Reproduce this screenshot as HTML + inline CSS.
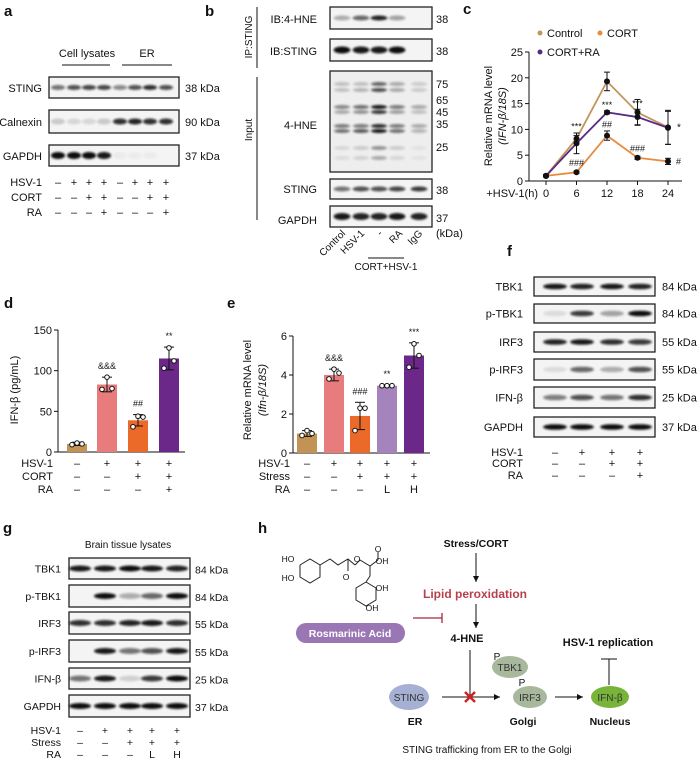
<!DOCTYPE html>
<html><head><meta charset="utf-8"><style>
html,body{margin:0;padding:0;background:#fff;}
svg{display:block;font-family:"Liberation Sans",Arial,sans-serif;}
</style></head><body>
<svg id="fig" width="698" height="759" viewBox="0 0 698 759" xmlns="http://www.w3.org/2000/svg">
<defs><filter id="bl" x="-20%" y="-100%" width="140%" height="300%"><feGaussianBlur stdDeviation="1.1"/></filter></defs>
</svg>
<script>
// ---- chart data ----
const cHours=[0,6,12,18,24];
const cControl=[1,8.2,19.3,13.3,10.4];
const cControlErr=[0.2,0.6,1.8,2.5,3.3];
const cCort=[1,1.7,8.8,4.5,3.8];
const cCortErr=[0.2,0.2,0.9,0.3,0.6];
const cCortRA=[1,7.3,13.3,12.4,10.3];
const cCortRAErr=[0.2,2.0,0.3,1.5,3.2];
const cYTicks=[0,5,10,15,20,25];
const dValues=[10,83,39,115];
const dErr=[2,9,7,14];
const dPoints=[[9,11,10],[77,92,78],[31,44,43],[103,128,112]];
const dYTicks=[0,50,100,150];
const eValues=[1.0,4.0,1.9,3.45,5.0];
const eErr=[0.15,0.3,0.7,0.05,0.65];
const ePoints=[[0.9,1.15,1.0],[3.8,4.3,4.1],[1.15,2.3,2.3],[3.45,3.45,3.45],[4.4,5.6,5.0]];
const eYTicks=[0,2,4,6];

const S=document.getElementById('fig');
const NS='http://www.w3.org/2000/svg';
function mk(tag,attrs,parent){const e=document.createElementNS(NS,tag);for(const k in attrs)e.setAttribute(k,attrs[k]);(parent||S).appendChild(e);return e;}
function txt(x,y,s,size,anchor,name,extra){const e=mk('text',Object.assign({x:x,y:y,'font-size':size,'text-anchor':anchor||'start',fill:'#111'},extra||{}));e.textContent=s;


return e;}
function line(x1,y1,x2,y2,name,stroke,w){const e=mk('line',{x1:x1,y1:y1,x2:x2,y2:y2,stroke:stroke||'#111','stroke-width':w||1});


return e;}
function blot(name,x0,y0,x1,y1,lanes,intens,bh,bandY){
 const r=mk('rect',{x:x0,y:y0,width:x1-x0,height:y1-y0,fill:'#f4f4f4',stroke:'#222','stroke-width':1.3});
 
 
 const sp=lanes.length>1?(lanes[1]-lanes[0]):20;
 lanes.forEach((lx,i)=>{if(intens[i]<=0)return;const b=mk('ellipse',{cx:lx,cy:bandY!==undefined?bandY:(y0+y1)/2,rx:sp*0.44,ry:bh,fill:'#111',opacity:intens[i],filter:'url(#bl)'});
 
 });
}
function signs(rows,lanes,ys,labelX,size,prefix){
 rows.forEach((row,ri)=>{txt(labelX,ys[ri],row[0],size,'end',prefix+'-row-label');
  row[1].forEach((s,i)=>{txt(lanes[i],ys[ri],s,size,'middle',prefix+'-sign');});});
}

// ---- panel letters ----
[['a',4,16],['b',205,16],['c',463,14],['d',4,308],['e',227,308],['f',507,256],['g',3,533],['h',258,533]].forEach(p=>{txt(p[1],p[2],p[0],15,'start','panel-label-'+p[0],{'font-weight':'bold'});});

// ---- panel a ----
const aL=[58,74,89,104,120,135,150,166];
txt(87,57,'Cell lysates',11,'middle','cell-lysates-header');
txt(147,57,'ER',11,'middle','er-header');
line(62,65,110,65,'cell-lysates-line');line(122,65,172,65,'er-line');
blot('a-sting',49,77,179,98,aL,[0.55,0.7,0.75,0.75,0.45,0.7,0.85,0.7],2.5);
blot('a-calnexin',49,110,179,133,aL,[0.18,0.12,0.12,0.18,0.85,0.9,0.85,0.85],3);
blot('a-gapdh',49,145,179,166,aL,[1,1,1,0.95,0.03,0.03,0.03,0],3.5);
txt(42,92,'STING',11,'end','a-sting-label');txt(42,126,'Calnexin',11,'end','a-calnexin-label');txt(42,160,'GAPDH',11,'end','a-gapdh-label');
txt(185,92,'38 kDa',11,'start','a-kda');txt(185,126,'90 kDa',11,'start','a-kda');txt(185,160,'37 kDa',11,'start','a-kda');
signs([['HSV-1',['–','+','+','+','–','+','+','+']],['CORT',['–','–','+','+','–','–','+','+']],['RA',['–','–','–','+','–','–','–','+']]],aL,[186,201,216],42,11,'a');

// ---- panel b ----
const bL=[342,361,379,397,419];
line(257,7,257,68,'ip-bracket');line(257,77,257,220,'input-bracket');
txt(252,37,'IP:STING',10,'middle','ip-sting-label',{transform:'rotate(-90 252 37)'});
txt(252,130,'Input',10,'middle','input-label',{transform:'rotate(-90 252 130)'});
blot('b-ib-4hne',330,7,432,29,bL,[0.3,0.6,0.9,0.35,0],2.5);
blot('b-ib-sting',330,39,432,61,bL,[1,0.95,0.95,1,0],3.5);
mk('rect',{x:330,y:71,width:102,height:101,fill:'#eee',stroke:'#222','stroke-width':1.3});
[[84,[0.2,0.2,0.6,0.3,0.15]],[90,[0.2,0.25,0.7,0.3,0.15]],[107,[0.45,0.55,0.95,0.5,0.3]],[112,[0.3,0.4,0.8,0.35,0.2]],[126,[0.5,0.5,0.85,0.5,0.3]],[131,[0.55,0.65,0.95,0.55,0.25]],[148,[0.1,0.15,0.4,0.15,0.05]],[158,[0.08,0.12,0.3,0.1,0.05]]].forEach(r=>{bL.forEach((lx,i)=>{const b=mk('ellipse',{cx:lx,cy:r[0],rx:8,ry:2,fill:'#111',opacity:r[1][i],filter:'url(#bl)'});

});});
blot('b-sting',330,179,432,199,bL,[0.55,0.7,0.7,0.75,0.8],2.5);
blot('b-gapdh',330,206,432,227,bL,[0.95,0.9,0.9,0.95,0.9],3.5);
txt(317,23,'IB:4-HNE',11,'end','b-ib-4hne-label');txt(317,55,'IB:STING',11,'end','b-ib-sting-label');
txt(317,129,'4-HNE',11,'end','b-4hne-label');txt(317,193,'STING',11,'end','b-sting-label');txt(317,224,'GAPDH',11,'end','b-gapdh-label');
[['38',23],['38',55],['75',88],['65',104],['45',116],['35',128],['25',151],['38',194],['37',222],['(kDa)',237]].forEach(m=>{txt(436,m[1],m[0],11,'start','b-marker');});
[['Control',342],['HSV-1',361],['-',379],['RA',399],['IgG',419]].forEach(l=>{txt(l[1]+4,234,l[0],10,'end','b-lane-label',{transform:'rotate(-45 '+(l[1]+4)+' 234)'});});
line(368,258,404,258,'cort-hsv-line');
txt(386,270,'CORT+HSV-1',10,'middle','cort-hsv-label');

// ---- panel c: line chart ----
const cx=t=>546+t/24*122, cy=v=>181-v/25*129;
line(529,52,529,181,'c-y-axis');line(529,181,682,181,'c-x-axis');
cYTicks.forEach(v=>{line(525,cy(v),529,cy(v),'c-y-tick');txt(523,cy(v)+4,String(v),11,'end','c-y-tick-label');});
cHours.forEach(h=>{line(cx(h),181,cx(h),185,'c-x-tick');txt(cx(h),197,String(h),11,'middle','c-x-tick-label');});
txt(538,197,'+HSV-1(h)',11,'end','c-x-axis-title');
txt(492,116,'Relative mRNA level',11,'middle','c-y-axis-title',{transform:'rotate(-90 492 116)'});
txt(506,116,'(IFN-β/18S)',11,'middle','c-y-axis-title-2',{transform:'rotate(-90 506 116)','font-style':'italic'});
function series(vals,errs,color,name){
 const p=mk('polyline',{points:vals.map((v,i)=>cx(cHours[i])+','+cy(v)).join(' '),fill:'none',stroke:color,'stroke-width':1.8});
 
 
 vals.forEach((v,i)=>{const x=cx(cHours[i]);line(x,cy(v+errs[i]),x,cy(v-errs[i]),name+'-error-bar');line(x-3,cy(v+errs[i]),x+3,cy(v+errs[i]),name+'-error-cap');line(x-3,cy(v-errs[i]),x+3,cy(v-errs[i]),name+'-error-cap');
  const c=mk('circle',{cx:x,cy:cy(v),r:3,fill:'#111'});
  
  });
}
series(cControl,cControlErr,'#c0965c','control');
series(cCort,cCortErr,'#ea8a3c','cort');
series(cCortRA,cCortRAErr,'#5a2a83','cort-ra');
[['***',6,cControl[1]+1.8],['***',12,cCortRA[2]+0.8],['***',18,cControl[3]+1.1],['##',12,cCort[2]+1.6],['###',6,cCort[1]+1.2],['###',18,cCort[3]+1.2]].forEach(a=>{txt(cx(a[1]),cy(a[2]),a[0],9,'middle','c-annotation');});
txt(cx(24)+9,cy(cControl[4])+3,'*',10,'start','c-annotation');txt(cx(24)+8,cy(cCort[4])+3,'#',9,'start','c-annotation');
[['#c0965c',540,33,'Control'],['#ea8a3c',600,33,'CORT'],['#5a2a83',540,52,'CORT+RA']].forEach(l=>{const c=mk('circle',{cx:l[1],cy:l[2],r:2.5,fill:l[0]});


txt(l[1]+7,l[2]+4,l[3],11,'start','legend-entry');});

// ---- bar chart helper ----
function bars(vals,errs,pts,colors,centers,y,ticks,axX,axEnd,y0px,name){
 line(axX,y(ticks[ticks.length-1]),axX,y0px,name+'-y-axis');line(axX,y0px,axEnd,y0px,name+'-x-axis');
 ticks.forEach(v=>{line(axX-4,y(v),axX,y(v),name+'-y-tick');txt(axX-6,y(v)+4,String(v),11,'end',name+'-y-tick-label');});
 vals.forEach((v,i)=>{const x=centers[i];const r=mk('rect',{x:x-10,y:y(v),width:20,height:y0px-y(v),fill:colors[i]});
  
  
  line(x,y(v+errs[i]),x,y(v-errs[i]),name+'-error-bar');line(x-5,y(v+errs[i]),x+5,y(v+errs[i]),name+'-error-cap');line(x-5,y(v-errs[i]),x+5,y(v-errs[i]),name+'-error-cap');
  pts[i].forEach((p,j)=>{const c=mk('circle',{cx:x+(j-1)*5,cy:y(p),r:2.3,fill:'#fff',stroke:'#111','stroke-width':1});
  
  });});
}
// ---- panel d ----
const dC=[77,107,138,169];
const dy=v=>452-v/150*122;
bars(dValues,dErr,dPoints,['#c39255','#e87b7b','#eb6a29','#6c2889'],dC,dy,dYTicks,58,185,452,'d');
txt(18,390,'IFN-β (pg/mL)',11,'middle','d-y-axis-title',{transform:'rotate(-90 18 390)'});
[['&&&',1],['##',2],['**',3]].forEach(a=>{txt(dC[a[1]],dy(dValues[a[1]]+dErr[a[1]])-8,a[0],9,'middle','d-annotation');});
signs([['HSV-1',['–','+','+','+']],['CORT',['–','–','+','+']],['RA',['–','–','–','+']]],dC,[467,480,493],53,11,'d');
// ---- panel e ----
const eC=[307,334,360,387,414];
const ey=v=>453-v/6*117;
bars(eValues,eErr,ePoints,['#c39255','#e87b7b','#eb6a29','#a584bd','#6c2889'],eC,ey,eYTicks,293,430,453,'e');
txt(251,390,'Relative mRNA level',11,'middle','e-y-axis-title',{transform:'rotate(-90 251 390)'});
txt(266,390,'(Ifn-β/18S)',11,'middle','e-y-axis-title-2',{transform:'rotate(-90 266 390)','font-style':'italic'});
[['&&&',1],['###',2],['**',3],['***',4]].forEach(a=>{txt(eC[a[1]],ey(eValues[a[1]]+eErr[a[1]])-8,a[0],9,'middle','e-annotation');});
signs([['HSV-1',['–','+','+','+','+']],['Stress',['–','–','+','+','+']],['RA',['–','–','–','L','H']]],eC,[467,480,493],290,11,'e');

// ---- panel f ----
const fL=[555,582,612,640];
[['TBK1',277,296,[0.95,0.9,0.95,0.9]],['p-TBK1',304,323,[0.1,0.8,0.35,1]],['IRF3',332,352,[0.9,0.95,0.85,0.8]],['p-IRF3',359,380,[0.1,0.6,0.3,0.7]],['IFN-β',387,408,[0.5,0.7,0.55,0.85]],['GAPDH',417,437,[1,1,1,1]]].forEach((r,i)=>{
 blot('f-'+i,534,r[1],655,r[2],fL,r[3],2.8);txt(523,(r[1]+r[2])/2+4,r[0],11,'end','f-row-label');
 txt(662,(r[1]+r[2])/2+4,['84 kDa','84 kDa','55 kDa','55 kDa','25 kDa','37 kDa'][i],11,'start','f-kda');});
signs([['HSV-1',['–','+','+','+']],['CORT',['–','–','+','+']],['RA',['–','–','–','+']]],fL,[456,467,479],523,11,'f');

// ---- panel g ----
const gL=[80,105,130,152,177];
txt(128,548,'Brain tissue lysates',10,'middle','brain-lysates-header');
[['TBK1',558,579,[0.95,0.95,1,0.95,0.9]],['p-TBK1',585,607,[0,1,0.3,0.6,1]],['IRF3',612,634,[0.85,0.85,0.9,0.95,0.85]],['p-IRF3',640,662,[0,0.95,0.55,0.7,0.95]],['IFN-β',668,689,[0.55,0.95,0.15,0.8,1]],['GAPDH',695,717,[1,1,1,1,1]]].forEach((r,i)=>{
 blot('g-'+i,69,r[1],190,r[2],gL,r[3],3);txt(61,(r[1]+r[2])/2+4,r[0],10.5,'end','g-row-label');
 txt(195,(r[1]+r[2])/2+5,['84 kDa','84 kDa','55 kDa','55 kDa','25 kDa','37 kDa'][i],10.5,'start','g-kda');});
signs([['HSV-1',['–','+','+','+','+']],['Stress',['–','–','+','+','+']],['RA',['–','–','–','L','H']]],gL,[734,746,758],61,10.5,'g');

// ---- panel h: schematic ----
txt(476,547,'Stress/CORT',10.5,'middle','stress-cort-label',{'font-weight':'bold'});
txt(475,598,'Lipid peroxidation',12,'middle','lipid-peroxidation-label',{fill:'#b8404c','font-weight':'bold'});
txt(467,642,'4-HNE',11,'middle','4-hne-node',{'font-weight':'bold'});
function arrow(x1,y1,x2,y2,name){line(x1,y1,x2,y2,name);const dx=x2-x1,dy2=y2-y1,l=Math.hypot(dx,dy2),ux=dx/l,uy=dy2/l;
 const p=mk('polygon',{points:x2+','+y2+' '+(x2-6*ux+3*uy)+','+(y2-6*uy-3*ux)+' '+(x2-6*ux-3*uy)+','+(y2-6*uy+3*ux),fill:'#111'});
 
 }
arrow(476,553,476,582,'stress-arrow');arrow(476,604,476,628,'lipid-arrow');
line(470,650,470,698,'4hne-line');
arrow(442,697,500,697,'sting-arrow');arrow(555,697,583,697,'irf3-arrow');
line(413,618,442,618,'ra-inhibit-line','#a5283c',1.3);line(442,613,442,623,'ra-inhibit-bar','#a5283c',1.3);
line(609,685,609,659,'ifn-inhibit-line');line(601,659,617,659,'ifn-inhibit-bar');
const x1=line(465,692,475,702,'block-cross','#d42020',2.5);line(475,692,465,702,'block-cross','#d42020',2.5);
function node(cx0,cy0,rx,ry,fill,label,name,fs){const e=mk('ellipse',{cx:cx0,cy:cy0,rx:rx,ry:ry,fill:fill});
 
 
 txt(cx0,cy0+4,label,fs||10,'middle',name+'-label',{fill:label==='Rosmarinic Acid'?'#fff':'#333','font-weight':label==='Rosmarinic Acid'?'bold':'normal'});}
mk('rect',{x:296,y:623,width:109,height:20,rx:10,fill:'#9a77b4'});
txt(350,637,'Rosmarinic Acid',10.5,'middle','rosmarinic-acid-label',{fill:'#fff','font-weight':'bold'});
node(409,697,20,13,'#a5b0d2','STING','sting-node');
node(510,667,18,11,'#a8b89c','TBK1','tbk1-node');txt(497,660,'P',10,'middle','p-tbk1');
node(530,697,17,11,'#a8b89c','IRF3','irf3-node');txt(522,686,'P',10,'middle','p-irf3');
node(610,697,19,11,'#79b43a','IFN-β','ifn-node');
txt(415,725,'ER',10.5,'middle','er-label',{'font-weight':'bold'});
txt(523,725,'Golgi',10.5,'middle','golgi-label',{'font-weight':'bold'});
txt(610,725,'Nucleus',10.5,'middle','nucleus-label',{'font-weight':'bold'});
txt(608,646,'HSV-1 replication',11,'middle','hsv-replication-label',{'font-weight':'bold'});
txt(487,753,'STING trafficking from ER to the Golgi',10,'middle','trafficking-caption');
// chemical structure (sketch)
const chem=mk('g',{fill:'none',stroke:'#222','stroke-width':1});


[[300,565,310,559,320,565,320,577,310,583,300,577,300,565],[320,565,330,559,338,565,348,559,355,565],[348,559,348,571],[355,565,360,560,370,566,378,560],[370,566,370,576,366,582],[378,560,378,552],[366,582,376,588,376,600,366,606,356,600,356,588,366,582]].forEach(p=>{const pl=mk('polyline',{points:p.join(' ')},chem);

});
[['HO',288,562],['HO',288,581],['O',357,562],['O',346,580],['O',378,552],['OH',382,564],['OH',382,591],['OH',372,611]].forEach(a=>{txt(a[1],a[2],a[0],8.5,'middle','structure-atom');});
</script>
</body></html>
